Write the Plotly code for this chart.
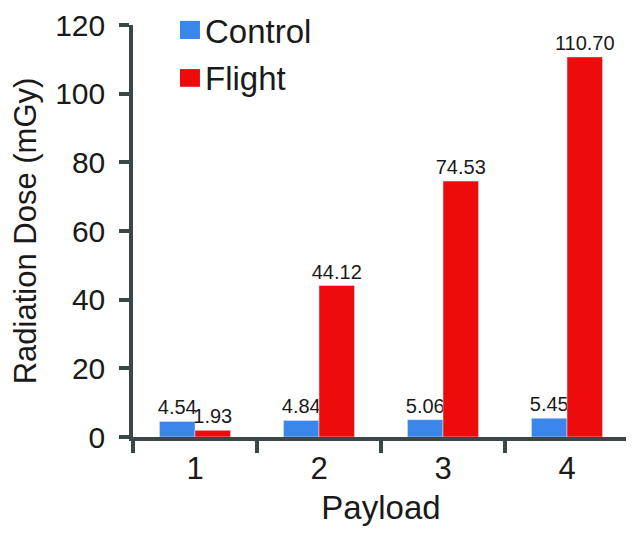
import plotly.graph_objects as go

payloads = ["1", "2", "3", "4"]
control = [4.54, 4.84, 5.06, 5.45]
flight = [1.93, 44.12, 74.53, 110.70]
y_ticks = [0, 20, 40, 60, 80, 100, 120]
series_names = ["Control", "Flight"]
series_colors = ["#3a86ea", "#ec0c0c"]

FONT = "Liberation Sans, Arial, Helvetica, sans-serif"
AXIS = "#3b4746"
TXT = "#1a1a1a"

fig = go.Figure()
for name, vals, col in zip(series_names, [control, flight], series_colors):
    fig.add_trace(go.Bar(
        x=payloads, y=vals, name=name, marker_color=col, showlegend=False,
        texttemplate="%{y:.2f}", textposition="outside", cliponaxis=False,
        constraintext="none",
        textfont=dict(size=20, color=TXT, family=FONT),
    ))

# legend drawn as squares + real text
leg_y = [(0.966, 1.010, 0.985), (0.850, 0.893, 0.871)]
for (y0, y1, yt), name, col in zip(leg_y, series_names, series_colors):
    fig.add_shape(type="rect", xref="paper", yref="paper", x0=0.0948, x1=0.135,
                  y0=y0, y1=y1, fillcolor=col, line_width=0)
    fig.add_annotation(text=name, xref="paper", yref="paper", x=0.141, y=yt,
                       xanchor="left", yanchor="middle", showarrow=False,
                       font=dict(size=33, family=FONT, color=TXT))

# page body has an 8px margin: size the figure to fill the rest of the window
fig.update_layout(
    width=626, height=534,
    margin=dict(l=125, r=5, t=17, b=105),
    paper_bgcolor="white", plot_bgcolor="white",
    font=dict(family=FONT, color=TXT),
    barmode="group", bargap=0.427, bargroupgap=0,
    xaxis=dict(
        type="category", tickson="boundaries", ticks="outside", ticklen=12, tickwidth=3.5,
        tickcolor=AXIS, showline=True, linecolor=AXIS, linewidth=3.5, showgrid=False,
        tickfont=dict(size=31, family=FONT), ticklabelstandoff=1, automargin=False,
        ticklabeloverflow="allow",
        title=dict(text="Payload", font=dict(size=33, family=FONT), standoff=12),
    ),
    yaxis=dict(
        range=[0, 120], tickvals=y_ticks, ticks="outside", ticklen=10, tickwidth=3.5,
        tickcolor=AXIS, showline=True, linecolor=AXIS, linewidth=3.5, showgrid=False,
        zeroline=False, tickfont=dict(size=30, family=FONT), ticklabelstandoff=8,
        automargin=False, ticklabeloverflow="allow",
        title=dict(text="Radiation Dose (mGy)", font=dict(size=31, family=FONT), standoff=11),
    ),
)

fig.write_html("out.html")
